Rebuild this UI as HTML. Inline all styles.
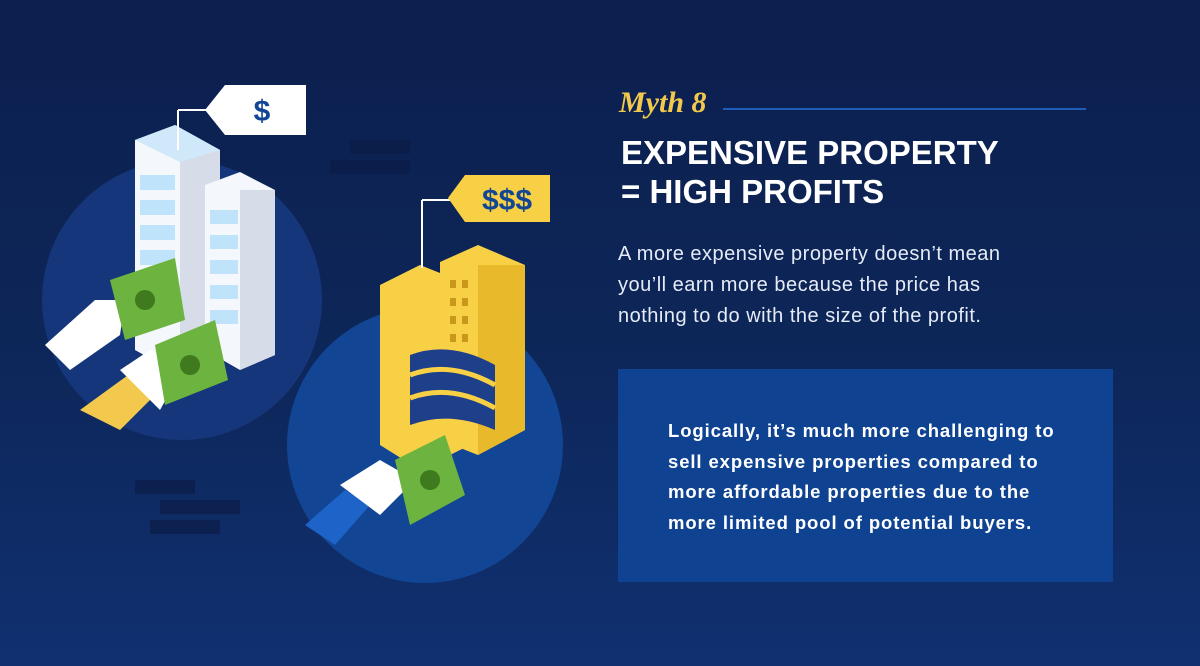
<!DOCTYPE html>
<html><head><meta charset="utf-8">
<style>
html,body{margin:0;padding:0;}
body{width:1200px;height:666px;overflow:hidden;position:relative;
background:linear-gradient(180deg,#0c1f4e 0%,#0d2658 50%,#103070 100%);
font-family:"Liberation Sans",sans-serif;}
.abs{position:absolute;}
#myth{left:619px;top:86px;color:#f2c94c;font-family:"Liberation Serif",serif;font-style:italic;font-weight:bold;font-size:30px;}
#rule{left:723px;top:108px;width:363px;height:2px;background:#1f5db8;}
#title{left:621px;top:133px;color:#fff;font-weight:bold;font-size:33px;line-height:39px;letter-spacing:0;}
#para{left:618px;top:239px;color:#e6ecf7;font-size:20px;letter-spacing:0.5px;line-height:31px;width:398px;}
#box{left:618px;top:369px;width:495px;height:213px;background:#0f4391;}
#boxtext{left:668px;top:416px;color:#fff;font-weight:bold;font-size:18.5px;letter-spacing:0.9px;line-height:30.5px;width:405px;}
</style></head><body>
<svg class="abs" style="left:0;top:0" width="600" height="666">
  <g fill="#0b1d48" opacity="0.7">
    <rect x="350" y="140" width="60" height="14"/><rect x="330" y="160" width="80" height="14"/>
    <rect x="135" y="480" width="60" height="14"/><rect x="160" y="500" width="80" height="14"/><rect x="150" y="520" width="70" height="14"/>
  </g>
  <circle cx="182" cy="300" r="140" fill="#15367a"/>
  <circle cx="425" cy="445" r="138" fill="#124694"/>
  <g>
    <polygon points="135,140 175,125 220,150 220,360 180,375 135,350" fill="#f4f7fb"/>
    <polygon points="180,158 220,150 220,360 180,375" fill="#d6dde8"/>
    <polygon points="135,140 175,125 220,150 180,162" fill="#cfe9fb"/>
    <g fill="#bfe3fa">
      <rect x="140" y="175" width="35" height="15"/><rect x="140" y="200" width="35" height="15"/><rect x="140" y="225" width="35" height="15"/>
      <rect x="140" y="250" width="35" height="15"/><rect x="140" y="275" width="35" height="15"/><rect x="140" y="300" width="35" height="15"/>
    </g>
    <polygon points="205,185 240,172 275,190 275,355 240,370 205,350" fill="#f4f7fb"/>
    <polygon points="240,190 275,190 275,355 240,370" fill="#d6dde8"/>
    <g fill="#bfe3fa"><rect x="210" y="210" width="28" height="14"/><rect x="210" y="235" width="28" height="14"/><rect x="210" y="260" width="28" height="14"/><rect x="210" y="285" width="28" height="14"/><rect x="210" y="310" width="28" height="14"/></g>
  </g>
  <line x1="178" y1="110" x2="178" y2="150" stroke="#fff" stroke-width="2"/>
  <line x1="178" y1="110" x2="210" y2="110" stroke="#fff" stroke-width="2"/>
  <g>
    <polygon points="205,110 225,85 306,85 306,135 225,135" fill="#fff"/>
    <text x="262" y="121" text-anchor="middle" font-family="Liberation Sans" font-weight="bold" font-size="30" fill="#124694">$</text>
  </g>
  <g>
    <polygon points="45,345 95,300 125,300 120,335 70,370" fill="#fff"/>
    <polygon points="110,280 175,258 185,320 125,340" fill="#6db33f"/>
    <circle cx="145" cy="300" r="10" fill="#3f7a1e"/>
    <polygon points="80,410 135,370 165,385 120,430" fill="#f2c94c"/>
    <polygon points="120,370 150,350 185,365 160,410" fill="#fff"/>
    <polygon points="155,345 215,320 228,380 165,405" fill="#6db33f"/>
    <circle cx="190" cy="365" r="10" fill="#3f7a1e"/>
  </g>
  <g>
    <polygon points="380,285 420,265 470,285 470,445 420,470 380,445" fill="#f7d046"/>
    <polygon points="440,262 478,245 525,265 525,430 478,455 440,440" fill="#f7d046"/>
    <polygon points="478,265 525,265 525,430 478,455" fill="#e8b92a"/>
    <g fill="#c9981a">
      <rect x="450" y="280" width="6" height="8"/><rect x="462" y="280" width="6" height="8"/><rect x="450" y="298" width="6" height="8"/><rect x="462" y="298" width="6" height="8"/>
      <rect x="450" y="316" width="6" height="8"/><rect x="462" y="316" width="6" height="8"/><rect x="450" y="334" width="6" height="8"/><rect x="462" y="334" width="6" height="8"/>
    </g>
    <path d="M410,355 Q450,340 495,365 L495,430 Q450,410 410,425 Z" fill="#1e3f8a"/>
    <path d="M410,375 Q450,360 495,385 M410,398 Q450,383 495,408" stroke="#f7d046" stroke-width="5" fill="none"/>
  </g>
  <line x1="422" y1="200" x2="422" y2="268" stroke="#fff" stroke-width="2"/>
  <line x1="422" y1="200" x2="450" y2="200" stroke="#fff" stroke-width="2"/>
  <g>
    <polygon points="448,198 465,175 550,175 550,222 465,222" fill="#f7d046"/>
    <text x="507" y="210" text-anchor="middle" font-family="Liberation Sans" font-weight="bold" font-size="30" fill="#124694">$$$</text>
  </g>
  <g>
    <polygon points="305,525 345,490 370,505 335,545" fill="#1e63c8"/>
    <polygon points="340,485 380,460 415,480 380,515" fill="#fff"/>
    <polygon points="395,460 445,435 465,495 410,525" fill="#6db33f"/>
    <circle cx="430" cy="480" r="10" fill="#3f7a1e"/>
  </g>
</svg>
<div id="myth" class="abs">Myth 8</div>
<div id="rule" class="abs"></div>
<div id="title" class="abs">EXPENSIVE PROPERTY<br>= HIGH PROFITS</div>
<div id="para" class="abs">A more expensive property doesn’t mean you’ll earn more because the price has nothing to do with the size of the profit.</div>
<div id="box" class="abs"></div>
<div id="boxtext" class="abs">Logically, it’s much more challenging to sell expensive properties compared to more affordable properties due to the more limited pool of potential buyers.</div>
</body></html>
